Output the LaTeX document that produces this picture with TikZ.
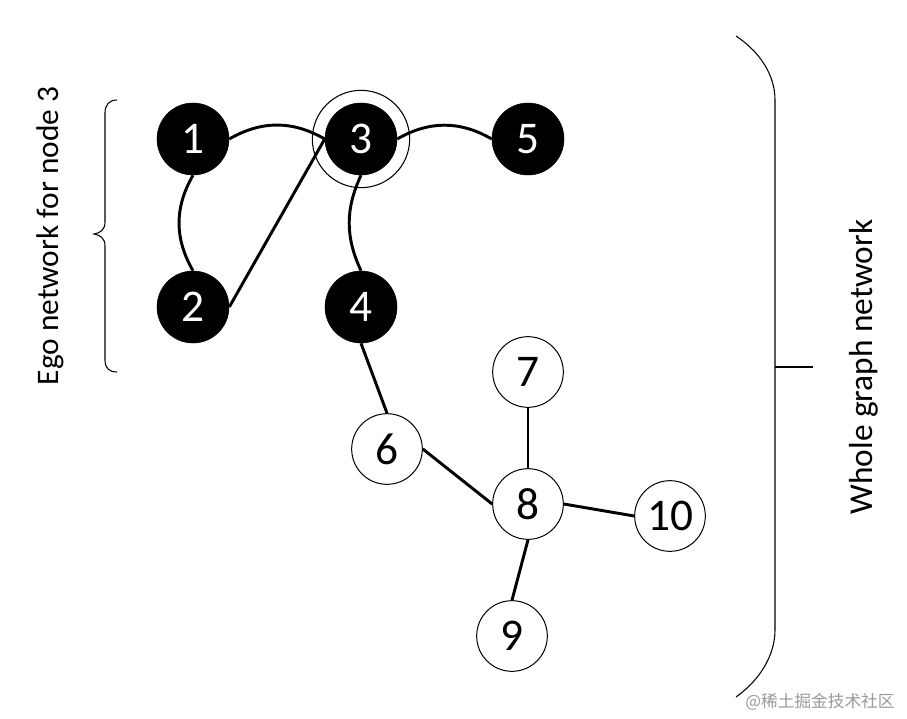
\documentclass[tikz,border=0pt]{standalone}
\usepackage{fontspec}
\setmainfont{Carlito}
\newfontfamily\cjk{Noto Sans CJK SC}
\begin{document}
\begin{tikzpicture}[x=0.75pt,y=-0.75pt,
  blacknode/.style={circle,fill=black,draw=black,minimum size=54pt,inner sep=0pt,text=white,font=\fontsize{34}{36}\selectfont},
  whitenode/.style={circle,fill=white,draw=black,line width=0.75pt,minimum size=53pt,inner sep=0pt,text=black,font=\fontsize{34}{36}\selectfont},
  edge/.style={line width=2.2pt},
  thin/.style={line width=0.8pt},
  lab/.style={rotate=90,anchor=base,inner sep=0pt}]
\useasboundingbox (0,0) rectangle (907,718);
% nodes
\node[blacknode] (n1) at (193,139) {1};
\node[blacknode] (n2) at (193,307) {2};
\node[blacknode] (n3) at (361,139) {3};
\node[blacknode] (n4) at (361,307) {4};
\node[blacknode] (n5) at (528,139) {5};
\node[whitenode] (n6) at (387,449) {6};
\node[whitenode] (n7) at (528,372) {7};
\node[whitenode] (n8) at (528,504) {8};
\node[whitenode] (n9) at (512,636) {9};
\node[whitenode] (n10) at (670,516) {10};
\node[circle,draw=black,thin,minimum size=73pt,inner sep=0pt] (ring) at (n3) {};
% edges
\draw[edge] (n1.east) to[out=30,in=150] (n3.west);
\draw[edge] (n3.east) to[out=30,in=150] (n5.west);
\draw[edge] (n1.south) to[out=-120,in=120] (n2.north);
\draw[edge] (n3.south) to[out=-115,in=115] (n4.north);
\draw[edge] (n2.east) -- (n3.west);
\draw[edge] (n4.south) -- (n6.north);
\draw[edge] (n6.east) -- (n8.west);
\draw[edge] (n7.south) -- (n8.north);
\draw[edge] (n8.east) -- (n10.west);
\draw[edge] (n8.south) -- (n9.north);
% left brace
\draw[thin] (117,100) .. controls (109,100) and (105,105) .. (105,113) -- (105,222)
  .. controls (105,230) and (100,233) .. (94,234)
  .. controls (100,235) and (105,238) .. (105,246) -- (105,360)
  .. controls (105,368) and (109,372) .. (117,372);
% right bracket
\draw[thin] (736,36) .. controls (760,52) and (775,75) .. (775,100) -- (775,630)
  .. controls (775,655) and (760,680) .. (736,697);
\coordinate (tickA) at (775,367);
\coordinate (tickB) at (813,367);
\draw[thin] (tickA) -- (tickB);
% labels
\node[lab,font=\fontsize{23.5}{26}\selectfont] (ego) at (58,236) {Ego network for node 3};
\node[lab,font=\fontsize{25}{28}\selectfont] (whole) at (872,367) {Whole graph network};
\node[font=\cjk\fontsize{12.5}{14}\selectfont,text=black!40,inner sep=0pt] (wm) at (820,702) {@稀土掘金技术社区};
\end{tikzpicture}
\end{document}
